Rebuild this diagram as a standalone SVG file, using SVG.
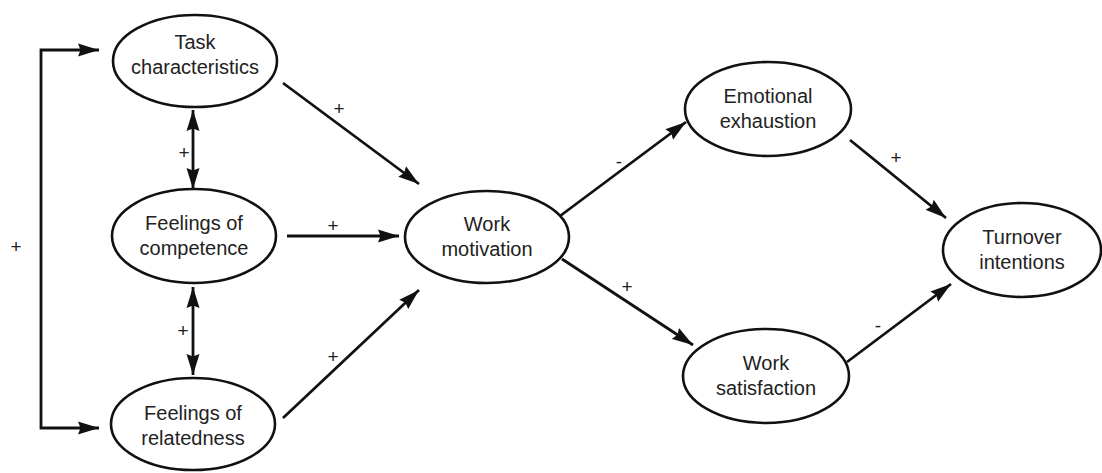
<svg xmlns="http://www.w3.org/2000/svg" width="1102" height="473" viewBox="0 0 1102 473">
<defs>
<marker id="ah" markerUnits="userSpaceOnUse" markerWidth="22" markerHeight="14" refX="21" refY="7" orient="auto-start-reverse" viewBox="0 0 22 14">
<path d="M0,0.5 L21,7 L0,13.5 L2.5,7 z" fill="#111"/>
</marker>
<style>
.n ellipse{fill:#fff;stroke:#111;stroke-width:2.6}
.n text{font-family:"Liberation Sans",Arial,sans-serif;font-size:20px;fill:#222;text-anchor:middle}
.c line,.c polyline{stroke:#111;stroke-width:2.8;fill:none}
.a{marker-end:url(#ah)}
.b{marker-start:url(#ah);marker-end:url(#ah)}
.lb{font-family:"Liberation Sans",Arial,sans-serif;font-size:19px;fill:#222;text-anchor:middle}
</style>
</defs>
<rect width="1102" height="473" fill="#fff"/>
<g id="connectors" class="c">
<polyline class="b" points="99,50 41,50 41,428 99,428"/>
<line class="b" x1="193" y1="110" x2="193" y2="189"/>
<line class="b" x1="193" y1="287" x2="193" y2="375"/>
<line class="a" x1="283" y1="83" x2="419" y2="184"/>
<line class="a" x1="287" y1="236" x2="399" y2="236"/>
<line class="a" x1="283" y1="418" x2="419" y2="290"/>
<line class="a" x1="560" y1="216" x2="686" y2="122"/>
<line class="a" x1="562" y1="259" x2="693" y2="345"/>
<line class="a" x1="850" y1="140" x2="946" y2="218"/>
<line class="a" x1="847" y1="362" x2="951" y2="284"/>
</g>
<g id="labels">
<text class="lb" x="16" y="253">+</text>
<text class="lb" x="184" y="159">+</text>
<text class="lb" x="183" y="337">+</text>
<text class="lb" x="339" y="115">+</text>
<text class="lb" x="333" y="232">+</text>
<text class="lb" x="333" y="363">+</text>
<text class="lb" x="619" y="168">-</text>
<text class="lb" x="627" y="293">+</text>
<text class="lb" x="896" y="164">+</text>
<text class="lb" x="878" y="332">-</text>
</g>
<g id="task" class="n"><ellipse cx="195" cy="61" rx="82" ry="46"/><text x="195" y="49">Task</text><text x="195" y="74">characteristics</text></g>
<g id="competence" class="n"><ellipse cx="194" cy="236" rx="82" ry="47"/><text x="194" y="230">Feelings of</text><text x="194" y="255">competence</text></g>
<g id="relatedness" class="n"><ellipse cx="193" cy="424" rx="82" ry="46"/><text x="193" y="420">Feelings of</text><text x="193" y="445">relatedness</text></g>
<g id="motivation" class="n"><ellipse cx="487" cy="237" rx="82" ry="46"/><text x="487" y="231">Work</text><text x="487" y="256">motivation</text></g>
<g id="exhaustion" class="n"><ellipse cx="768" cy="109" rx="83" ry="47"/><text x="768" y="103">Emotional</text><text x="768" y="128">exhaustion</text></g>
<g id="satisfaction" class="n"><ellipse cx="766" cy="376" rx="83" ry="47"/><text x="766" y="370">Work</text><text x="766" y="395">satisfaction</text></g>
<g id="turnover" class="n"><ellipse cx="1022" cy="250" rx="79" ry="47"/><text x="1022" y="244">Turnover</text><text x="1022" y="269">intentions</text></g>
</svg>
